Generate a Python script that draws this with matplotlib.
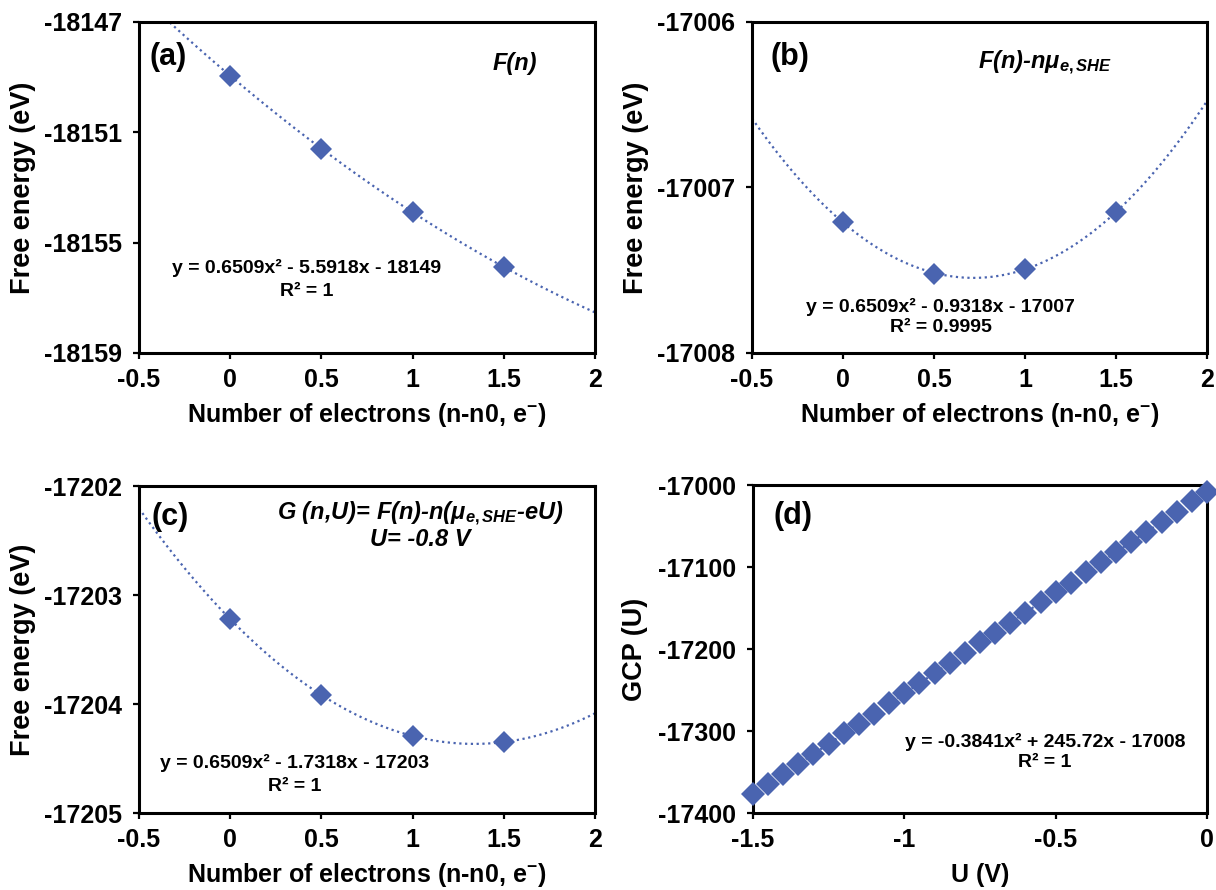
# Energía libre vs número de electrones (paneles a-c) y GCP vs U (panel d)
import numpy as np
import matplotlib
matplotlib.use('Agg')
import matplotlib.pyplot as plt
from matplotlib.ticker import FuncFormatter

plt.rcParams['font.family'] = ['Liberation Sans', 'DejaVu Sans']
plt.rcParams['font.weight'] = 'bold'
plt.rcParams['axes.labelweight'] = 'bold'
plt.rcParams['axes.unicode_minus'] = False
plt.rcParams['mathtext.fontset'] = 'custom'
plt.rcParams['mathtext.rm'] = 'Liberation Sans:bold'
plt.rcParams['mathtext.bf'] = 'Liberation Sans:bold'
plt.rcParams['mathtext.it'] = 'Liberation Sans:italic:bold'
plt.rcParams['mathtext.default'] = 'bf'

azul = '#4A64B0'

# Datos
n_e = [0, 0.5, 1, 1.5]
F_n = [-18148.95, -18151.59, -18153.90, -18155.88]
F_mu = [-17007.21, -17007.52, -17007.49, -17007.15]
G_nU = [-17203.22, -17203.92, -17204.29, -17204.35]

U = [-1.50, -1.45, -1.40, -1.35, -1.30, -1.25, -1.20, -1.15, -1.10, -1.05,
     -1.00, -0.95, -0.90, -0.85, -0.80, -0.75, -0.70, -0.65, -0.60, -0.55,
     -0.50, -0.45, -0.40, -0.35, -0.30, -0.25, -0.20, -0.15, -0.10, -0.05, 0.00]
GCP = [-17377, -17365, -17353, -17340, -17328, -17316, -17303, -17291, -17279, -17266,
       -17254, -17242, -17229, -17217, -17205, -17192, -17180, -17168, -17156, -17143,
       -17131, -17119, -17106, -17094, -17082, -17069, -17057, -17045, -17033, -17020, -17008]

# marcas de los ejes
xt_n = [-0.5, 0, 0.5, 1, 1.5, 2]
xt_U = [-1.5, -1, -0.5, 0]
yt_a = [-18159, -18155, -18151, -18147]
yt_b = [-17008, -17007, -17006]
yt_c = [-17205, -17204, -17203, -17202]
yt_d = [-17400, -17300, -17200, -17100, -17000]

xlab_n = 'Number of electrons (n-n0, e$^{-}$)'
ylab_E = 'Free energy (eV)'

fmt = FuncFormatter(lambda v, p: f'{v:g}')

fig = plt.figure(figsize=(12.16, 8.9), dpi=100)
ax_a = fig.add_axes([0.1143, 0.6034, 0.3750, 0.3719])
ax_b = fig.add_axes([0.6184, 0.6034, 0.3742, 0.3719])
ax_c = fig.add_axes([0.1143, 0.0865, 0.3750, 0.3674])
ax_d = fig.add_axes([0.6192, 0.0865, 0.3734, 0.3685])


def panel(ax, x, y, xt, yt, ms=11):
    # tendencia polinómica de orden 2 (como en Excel)
    c = np.polyfit(x, y, 2)
    xx = np.linspace(xt[0], xt[-1], 300)
    ax.plot(xx, np.polyval(c, xx), color=azul, lw=1.6, ls=(0, (1, 1.6)))
    ax.plot(x, y, 'D', color=azul, ms=ms, mew=0, clip_on=False, zorder=3)
    ax.set_xlim(xt[0], xt[-1])
    ax.set_ylim(yt[0], yt[-1])
    ax.set_xticks(xt)
    ax.set_yticks(yt)
    ax.xaxis.set_major_formatter(fmt)
    ax.yaxis.set_major_formatter(fmt)
    for s in ax.spines.values():
        s.set_linewidth(2.2)
    ax.tick_params(direction='out', length=4, width=1.6, labelsize=18)
    ax.tick_params(axis='x', pad=7)
    ax.tick_params(axis='y', pad=8)


panel(ax_a, n_e, F_n, xt_n, yt_a)
panel(ax_b, n_e, F_mu, xt_n, yt_b)
panel(ax_c, n_e, G_nU, xt_n, yt_c)
panel(ax_d, U, GCP, xt_U, yt_d, ms=12)

for ax in (ax_a, ax_b, ax_c):
    ax.set_xlabel(xlab_n, fontsize=18)
    ax.set_ylabel(ylab_E, fontsize=19.5)
ax_d.set_xlabel('U (V)', fontsize=18)
ax_d.set_ylabel('GCP (U)', fontsize=19.5)

for ax in (ax_a, ax_b, ax_c, ax_d):
    h = ax.get_position().height * 890
    ax.xaxis.label.set_va('center')
    ax.xaxis.set_label_coords(0.5, -62 / h)
    ax.yaxis.label.set_va('center')
    ax.yaxis.set_label_coords(-0.255 if ax is not ax_d else -0.26, 0.5)

# etiquetas de panel
for ax, t, xf, yf in ((ax_a, '(a)', 0.022, 0.893), (ax_b, '(b)', 0.04, 0.893),
                      (ax_c, '(c)', 0.027, 0.905), (ax_d, '(d)', 0.045, 0.905)):
    ax.text(xf, yf, t, transform=ax.transAxes, fontsize=22, va='center', ha='left')

ax_a.text(0.825, 0.876, 'F(n)', transform=ax_a.transAxes, fontsize=17,
          style='italic', ha='center', va='center')
ax_b.text(0.645, 0.876, r'F(n)-n$\mathit{\mu}_{\mathit{e,SHE}}$', transform=ax_b.transAxes,
          fontsize=17, style='italic', ha='center', va='center')
ax_c.text(0.617, 0.915, r'G (n,U)= F(n)-n($\mathit{\mu}_{\mathit{e,SHE}}$-eU)',
          transform=ax_c.transAxes, fontsize=17, style='italic', ha='center', va='center')
ax_c.text(0.617, 0.835, 'U= -0.8 V', transform=ax_c.transAxes, fontsize=17,
          style='italic', ha='center', va='center')

# ecuaciones de las líneas de tendencia
eqs = [(ax_a, 'y = 0.6509x² - 5.5918x - 18149', 'R² = 1', 0.368, 0.257, 0.187),
       (ax_b, 'y = 0.6509x² - 0.9318x - 17007', 'R² = 0.9995', 0.415, 0.14, 0.076),
       (ax_c, 'y = 0.6509x² - 1.7318x - 17203', 'R² = 1', 0.342, 0.153, 0.08),
       (ax_d, 'y = -0.3841x² + 245.72x - 17008', 'R² = 1', 0.643, 0.217, 0.153)]
for ax, e, r, xf, y1, y2 in eqs:
    ax.text(xf, y1, e, transform=ax.transAxes, fontsize=14, ha='center', va='center')
    ax.text(xf, y2, r, transform=ax.transAxes, fontsize=14, ha='center', va='center')

fig.savefig('out.png', dpi=100)
